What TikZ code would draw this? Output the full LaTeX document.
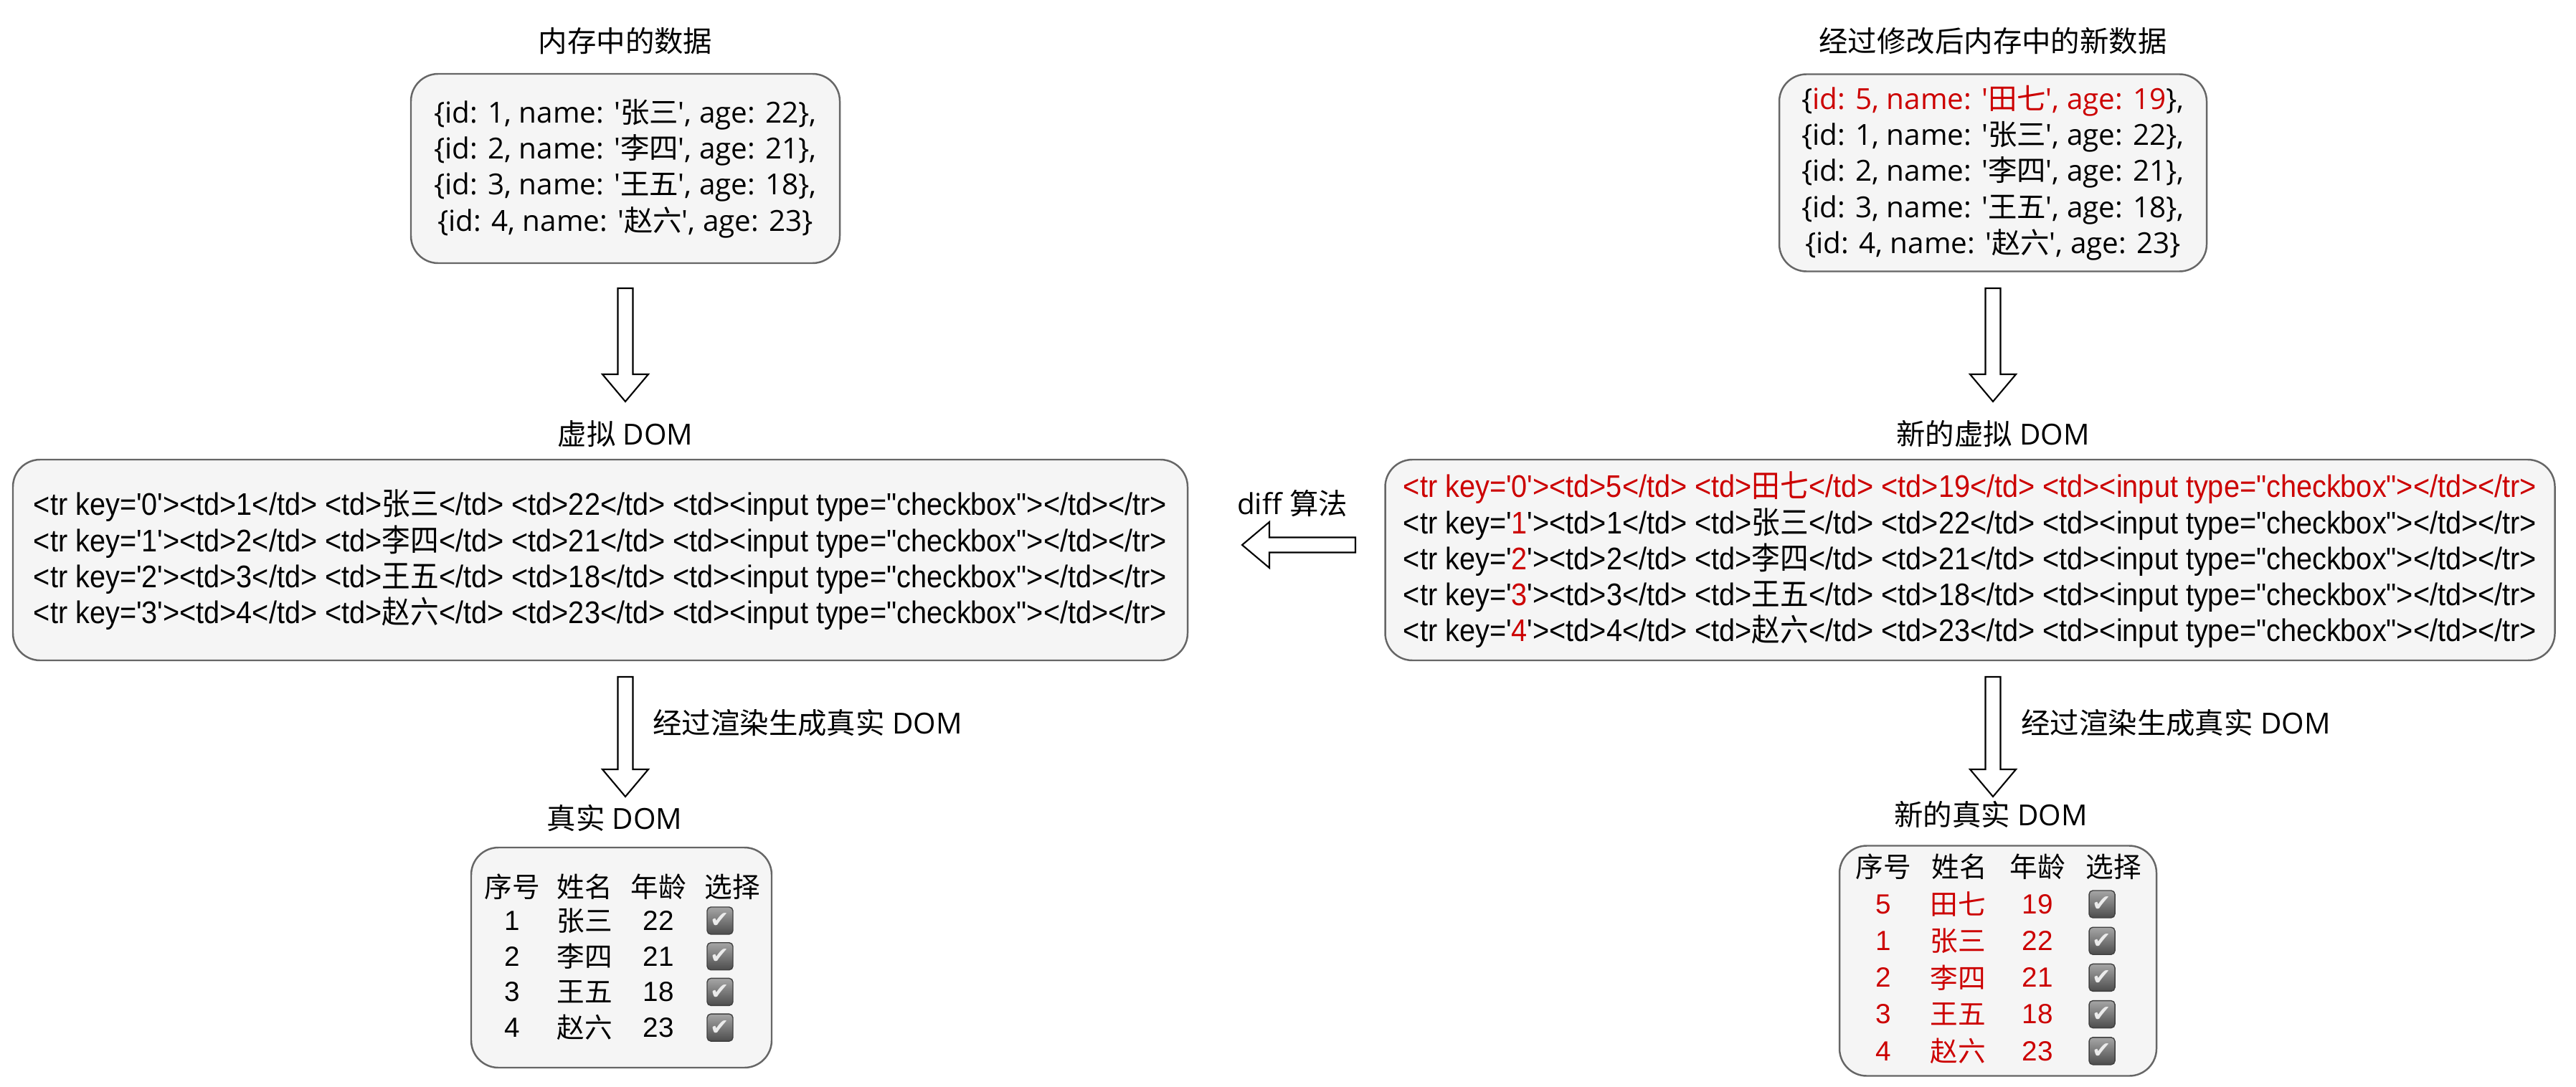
\documentclass[tikz,border=0pt]{standalone}
\usepackage{fontspec}
\newfontfamily\comicfont{Open Sans}
\newfontfamily\cjk{Noto Sans CJK SC}
\newfontfamily\htmlfont[FakeStretch=0.91]{Liberation Sans}
\newfontfamily\htmlcjk[FakeStretch=0.91]{Noto Sans CJK SC}
\newfontfamily\tablefont{Liberation Sans}
\newfontfamily\symfont{DejaVu Sans}
\usetikzlibrary{calc,positioning}
\let\zhfont\cjk
\newcommand{\zh}[1]{{\zhfont #1}}
\definecolor{boxfill}{HTML}{F5F5F5}
\definecolor{boxline}{HTML}{666666}
\definecolor{newred}{HTML}{CC0000}
\newcommand{\red}[1]{\textcolor{newred}{#1}}
% hollow block arrow from #1 to the tip #2
\newcommand{\hollowarrow}[2]{%
  \coordinate (hb) at ($(#2)!0.38cm!(#1)$);
  \draw[hollow] ($(#1)!0.105cm!90:(#2)$) -- ($(hb)!0.105cm!-90:(#1)$)
    -- ($(hb)!0.32cm!-90:(#1)$) -- (#2) -- ($(hb)!0.32cm!90:(#1)$)
    -- ($(hb)!0.105cm!90:(#1)$) -- ($(#1)!0.105cm!-90:(#2)$) -- cycle;}
\tikzset{
  panel/.style={draw=boxline, fill=boxfill, rounded corners=0.38cm, line width=0.7pt, inner sep=0pt},
  heading/.style={font=\comicfont\fontsize{11.5}{14}\selectfont},
  data/.style={font=\comicfont\fontsize{11.5}{14.3}\selectfont, align=center},
  html/.style={font=\htmlfont\let\zhfont\htmlcjk\fontsize{12.4}{14.3}\selectfont, align=left},
  cell/.style={font=\tablefont\fontsize{11}{11}\selectfont},
  checkbox/.style={draw=black!75, rounded corners=1.5pt, top color=black!35, bottom color=black!70,
    minimum width=0.36cm, minimum height=0.38cm, inner sep=0pt, text=white!92!black,
    font=\symfont\fontsize{9}{9}\selectfont},
  hollow/.style={draw, fill=white, line width=0.6pt, line join=miter},
}

\begin{document}
\begin{tikzpicture}
  \useasboundingbox (0,0) rectangle (35.92,-15.16);

  % data in memory
  \node[heading] (memtitle) at (8.72,-0.57) {\zh{内存中的数据}};
  \node[panel, data, minimum width=5.98cm, minimum height=2.64cm] (mem) at (8.72,-2.35)
    {\{id: 1, name: '\zh{张三}', age: 22\},\\
     \{id: 2, name: '\zh{李四}', age: 21\},\\
     \{id: 3, name: '\zh{王五}', age: 18\},\\
     \{id: 4, name: '\zh{赵六}', age: 23\}};

  \node[heading] (newmemtitle) at (27.79,-0.57) {\zh{经过修改后内存中的新数据}};
  \node[panel, data, minimum width=5.96cm, minimum height=2.75cm] (newmem) at (27.79,-2.41)
    {\{\red{id: 5, name: '\zh{田七}', age: 19}\},\\
     \{id: 1, name: '\zh{张三}', age: 22\},\\
     \{id: 2, name: '\zh{李四}', age: 21\},\\
     \{id: 3, name: '\zh{王五}', age: 18\},\\
     \{id: 4, name: '\zh{赵六}', age: 23\}};

  % virtual dom
  \node[heading] (vdomtitle) at (8.72,-6.05) {\zh{虚拟} DOM};
  \node[panel, html, minimum width=16.38cm, minimum height=2.80cm] (vdom) at (8.37,-7.81)
    {<tr key='0'><td>1</td> <td>\zh{张三}</td> <td>22</td> <td><input type="checkbox"></td></tr>\\
     <tr key='1'><td>2</td> <td>\zh{李四}</td> <td>21</td> <td><input type="checkbox"></td></tr>\\
     <tr key='2'><td>3</td> <td>\zh{王五}</td> <td>18</td> <td><input type="checkbox"></td></tr>\\
     <tr key='3'><td>4</td> <td>\zh{赵六}</td> <td>23</td> <td><input type="checkbox"></td></tr>};

  \node[heading] (newvdomtitle) at (27.79,-6.05) {\zh{新的虚拟} DOM};
  \node[panel, html, minimum width=16.31cm, minimum height=2.80cm] (newvdom) at (27.47,-7.81)
    {\red{<tr key='0'><td>5</td> <td>\zh{田七}</td> <td>19</td> <td><input type="checkbox"></td></tr>}\\
     <tr key='\red{1}'><td>1</td> <td>\zh{张三}</td> <td>22</td> <td><input type="checkbox"></td></tr>\\
     <tr key='\red{2}'><td>2</td> <td>\zh{李四}</td> <td>21</td> <td><input type="checkbox"></td></tr>\\
     <tr key='\red{3}'><td>3</td> <td>\zh{王五}</td> <td>18</td> <td><input type="checkbox"></td></tr>\\
     <tr key='\red{4}'><td>4</td> <td>\zh{赵六}</td> <td>23</td> <td><input type="checkbox"></td></tr>};

  \node[heading] (difflabel) at (18.02,-7.02) {diff \zh{算法}};

  % real dom
  \node[heading] (domtitle) at (8.57,-11.41) {\zh{真实} DOM};
  \node[panel, minimum width=4.19cm, minimum height=3.07cm] (dom) at (8.665,-13.355) {};
  \node[cell] (domh1) at (7.14,-12.37) {\zh{序号}};
  \node[cell] (domh2) at (8.15,-12.37) {\zh{姓名}};
  \node[cell] (domh3) at (9.18,-12.37) {\zh{年龄}};
  \node[cell] (domh4) at (10.21,-12.37) {\zh{选择}};
  \foreach \n/\nm/\ag [count=\i] in {1/张三/22, 2/李四/21, 3/王五/18, 4/赵六/23} {
    \node[cell] (domid\i) at (7.14,{-12.84-(\i-1)*0.497}) {\n};
    \node[cell] (domname\i) at (8.15,{-12.84-(\i-1)*0.497}) {\zh{\nm}};
    \node[cell] (domage\i) at (9.18,{-12.84-(\i-1)*0.497}) {\ag};
    \node[checkbox] (domck\i) at (10.04,{-12.84-(\i-1)*0.497}) {✔};
  }

  \node[heading] (newdomtitle) at (27.76,-11.36) {\zh{新的真实} DOM};
  \node[panel, minimum width=4.42cm, minimum height=3.21cm] (newdom) at (27.86,-13.40) {};
  \node[cell] (newh1) at (26.26,-12.09) {\zh{序号}};
  \node[cell] (newh2) at (27.32,-12.09) {\zh{姓名}};
  \node[cell] (newh3) at (28.41,-12.09) {\zh{年龄}};
  \node[cell] (newh4) at (29.47,-12.09) {\zh{选择}};
  \foreach \n/\nm/\ag [count=\i] in {5/田七/19, 1/张三/22, 2/李四/21, 3/王五/18, 4/赵六/23} {
    \node[cell, text=newred] (newid\i) at (26.26,{-12.61-(\i-1)*0.512}) {\n};
    \node[cell, text=newred] (newname\i) at (27.30,{-12.61-(\i-1)*0.512}) {\zh{\nm}};
    \node[cell, text=newred] (newage\i) at (28.41,{-12.61-(\i-1)*0.512}) {\ag};
    \node[checkbox] (newck\i) at (29.31,{-12.61-(\i-1)*0.512}) {✔};
  }

  \node[heading, anchor=west] (renderlabel) at (8.98,-10.08) {\zh{经过渲染生成真实} DOM};
  \node[heading, anchor=west] (newrenderlabel) at (28.06,-10.08) {\zh{经过渲染生成真实} DOM};

  % block arrows
  \coordinate (down1) at (8.72,-4.02);   \coordinate (tip1) at (8.72,-5.60);
  \coordinate (down2) at (8.72,-9.44);   \coordinate (tip2) at (8.72,-11.11);
  \coordinate (down3) at (27.79,-4.02);  \coordinate (tip3) at (27.79,-5.60);
  \coordinate (down4) at (27.79,-9.44);  \coordinate (tip4) at (27.79,-11.11);
  \coordinate (diffstart) at (18.90,-7.60); \coordinate (difftip) at (17.32,-7.60);
  \hollowarrow{down1}{tip1}
  \hollowarrow{down2}{tip2}
  \hollowarrow{down3}{tip3}
  \hollowarrow{down4}{tip4}
  \hollowarrow{diffstart}{difftip}
\end{tikzpicture}
\end{document}
